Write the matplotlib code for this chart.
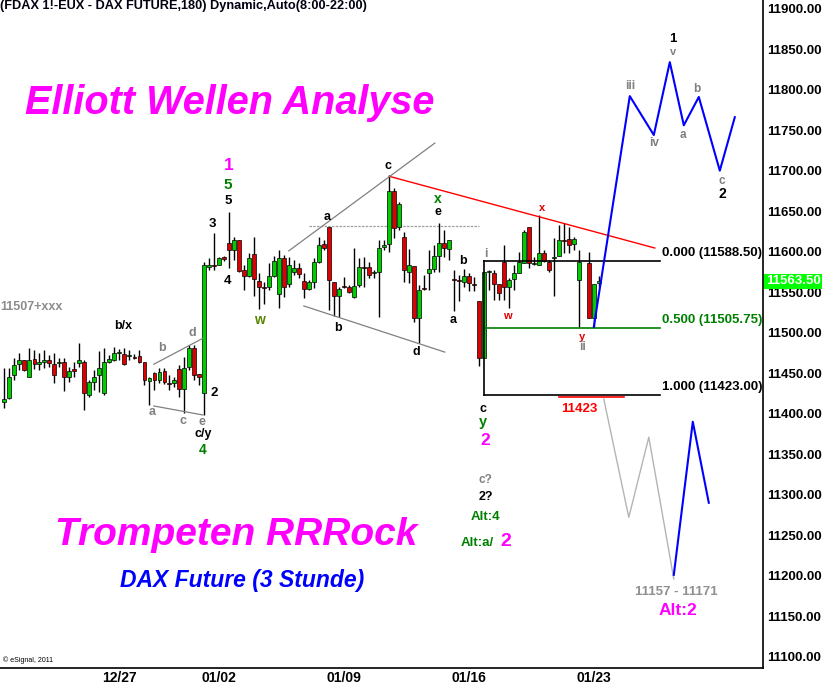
import matplotlib
matplotlib.use('Agg')
import matplotlib.pyplot as plt
import matplotlib.transforms as mtransforms
import numpy as np

plt.rcParams['font.family'] = ['Liberation Sans', 'DejaVu Sans']

# ---------------- data ----------------
bar_index = list(range(0, 116)) + [117, 118, 119]
opens = [11414, 11419, 11448, 11461, 11466, 11445, 11468, 11461, 11464, 11466,
         11461, 11463, 11464, 11445, 11455, 11463, 11464, 11423, 11439, 11448,
         11426, 11464, 11466, 11475, 11474, 11471, 11470, 11471, 11464, 11440,
         11450, 11442, 11453, 11438, 11438, 11455, 11431, 11458, 11481, 11449,
         11426, 11581, 11584, 11584, 11593, 11611, 11602, 11614, 11577, 11570,
         11597, 11564, 11556, 11556, 11570, 11548, 11592, 11560, 11575, 11580,
         11564, 11554, 11563, 11587, 11610, 11630, 11563, 11545, 11557, 11556,
         11544, 11559, 11581, 11581, 11574, 11575, 11606, 11609, 11675, 11631,
         11618, 11575, 11582, 11518, 11555, 11574, 11579, 11595, 11611, 11603,
         11566, 11565, 11563, 11570, 11560, 11539, 11469, 11575, 11574, 11560,
         11587, 11556, 11566, 11574, 11586, 11630, 11585, 11584, 11598, 11587,
         11592, 11595, 11614, 11616, 11610, 11565, 11586, 11518, 11561]
highs = [11456, 11456, 11469, 11475, 11466, 11481, 11479, 11475, 11479, 11472,
         11475, 11469, 11469, 11458, 11464, 11487, 11466, 11442, 11454, 11477,
         11481, 11472, 11482, 11480, 11481, 11479, 11474, 11479, 11464, 11445,
         11451, 11456, 11456, 11448, 11445, 11460, 11470, 11485, 11485, 11449,
         11587, 11592, 11623, 11593, 11595, 11649, 11618, 11614, 11584, 11598,
         11618, 11574, 11563, 11586, 11595, 11602, 11596, 11593, 11590, 11586,
         11574, 11565, 11592, 11618, 11614, 11630, 11563, 11556, 11569, 11559,
         11605, 11592, 11593, 11587, 11577, 11614, 11614, 11695, 11679, 11661,
         11624, 11603, 11582, 11559, 11571, 11602, 11608, 11635, 11627, 11614,
         11577, 11571, 11579, 11574, 11569, 11539, 11575, 11577, 11577, 11560,
         11608, 11567, 11584, 11600, 11627, 11630, 11593, 11645, 11602, 11590,
         11617, 11633, 11635, 11630, 11618, 11602, 11600, 11560, 11570]
lows = [11407, 11418, 11442, 11454, 11453, 11445, 11455, 11454, 11456, 11458,
        11438, 11458, 11428, 11439, 11445, 11458, 11405, 11421, 11429, 11427,
        11423, 11463, 11465, 11466, 11460, 11466, 11468, 11463, 11435, 11411,
        11429, 11438, 11437, 11429, 11433, 11421, 11401, 11454, 11442, 11435,
        11398, 11577, 11577, 11584, 11588, 11580, 11590, 11575, 11553, 11569,
        11545, 11529, 11535, 11553, 11569, 11530, 11544, 11556, 11571, 11567,
        11543, 11553, 11555, 11586, 11602, 11528, 11521, 11519, 11555, 11549,
        11543, 11556, 11556, 11567, 11567, 11519, 11602, 11600, 11617, 11627,
        11563, 11561, 11513, 11487, 11553, 11553, 11575, 11575, 11593, 11590,
        11527, 11539, 11556, 11551, 11551, 11459, 11469, 11553, 11540, 11540,
        11540, 11530, 11553, 11574, 11586, 11580, 11584, 11584, 11587, 11575,
        11545, 11595, 11598, 11598, 11602, 11507, 11518, 11507, 11556]
closes = [11418, 11445, 11460, 11466, 11454, 11466, 11461, 11464, 11466, 11463,
          11448, 11464, 11445, 11453, 11453, 11466, 11426, 11439, 11445, 11456,
          11464, 11468, 11475, 11476, 11461, 11472, 11469, 11464, 11442, 11444,
          11442, 11451, 11439, 11437, 11441, 11431, 11456, 11481, 11448, 11445,
          11584, 11584, 11582, 11592, 11591, 11602, 11614, 11576, 11570, 11592,
          11566, 11556, 11555, 11570, 11588, 11592, 11556, 11584, 11580, 11572,
          11554, 11563, 11587, 11608, 11605, 11565, 11545, 11554, 11556, 11550,
          11558, 11581, 11580, 11571, 11575, 11605, 11608, 11675, 11629, 11659,
          11577, 11584, 11518, 11553, 11554, 11579, 11595, 11611, 11605, 11614,
          11565, 11564, 11570, 11561, 11559, 11469, 11575, 11576, 11560, 11549,
          11556, 11565, 11574, 11587, 11624, 11586, 11586, 11598, 11589, 11577,
          11593, 11614, 11613, 11608, 11616, 11587, 11518, 11560, 11563.5]

date_ticks = [23, 43, 68, 93, 118]
date_labels = ['12/27', '01/02', '01/09', '01/16', '01/23']
price_ticks = list(range(11100, 11901, 50))
last_price = 11563.5

# wave projections
main_x = [117.9, 125.1, 129.9, 133.1, 135.9, 138.9, 143.1, 146.1]
main_y = [11507, 11792, 11744, 11834, 11756, 11791, 11700, 11766]
alt_gray_x = [119.9, 124.9, 128.9, 133.9]
alt_gray_y = [11418, 11272, 11371, 11196]
alt_blue_x = [133.9, 137.7, 140.9]
alt_blue_y = [11201, 11390, 11290]

# fibonacci levels
fib_levels = [11588.50, 11505.75, 11423.00]
fib_ratios = ['0.000', '0.500', '1.000']

# trend lines (x0, y0, x1, y1)
red_trend = (77.0, 11693, 130.1, 11604.5)
tri1_upper = (29.9, 11461, 39.7, 11493)
tri1_lower = (29.9, 11409.5, 39.7, 11398.4)
tri2_upper = (56.9, 11601, 86.1, 11734)
tri2_lower = (59.9, 11533, 88.1, 11476)
gray_level = 11631.7

# ---------------- figure ----------------
W, H = 824, 689
fig = plt.figure(figsize=(W / 100, H / 100), dpi=100)
fig.patch.set_facecolor('white')
ax = fig.add_axes([0, 21 / H, 763 / W, 668 / H])
ax.set_xlim(-0.86, 151.74)
ax.set_ylim(11086, 11910.7)

for s in ['top', 'left']:
    ax.spines[s].set_visible(False)
ax.spines['right'].set_linewidth(1.2)
ax.spines['bottom'].set_linewidth(1.2)

ax.yaxis.tick_right()
ax.set_yticks(price_ticks)
ax.set_yticklabels(['%.2f' % p for p in price_ticks], fontsize=9.5, fontweight='bold')
ax.tick_params(axis='y', length=0, pad=3)
ax.set_xticks(date_ticks)
ax.set_xticklabels(date_labels, fontsize=10, fontweight='bold',
                   family=['Liberation Sans Narrow', 'Liberation Sans'])
ax.tick_params(axis='x', length=0, pad=2)

# candles
o = np.array(opens, float); c = np.array(closes, float)
hi = np.array(highs, float); lo = np.array(lows, float)
xs = np.array(bar_index, float)
ax.vlines(xs, lo, hi, color='black', lw=1, zorder=2)
up = c >= o
bottoms = np.minimum(o, c)
heights = np.maximum(np.abs(c - o), 1.2)
ax.bar(xs[up], heights[up], bottom=bottoms[up], width=0.72, color='#00cc00',
       edgecolor='black', linewidth=0.5, zorder=3)
ax.bar(xs[~up], heights[~up], bottom=bottoms[~up], width=0.72, color='#dd0000',
       edgecolor='black', linewidth=0.5, zorder=3)

# trend lines
def seg(t, **kw):
    ax.plot([t[0], t[2]], [t[1], t[3]], **kw)

seg(red_trend, color='#ff0000', lw=1, zorder=4)
for t in (tri1_upper, tri1_lower, tri2_upper, tri2_lower):
    seg(t, color='#808080', lw=0.9, zorder=4)
ax.plot([61, 95], [gray_level, gray_level], color='#a0a0a0', lw=0.9, ls=(0, (2, 1)), zorder=1)

# fib box
fx0, fx1 = 95.9, 131.1
ax.plot([fx0, fx1], [fib_levels[0]] * 2, color='black', lw=1.2, zorder=4)
ax.plot([fx0, fx1], [fib_levels[1]] * 2, color='#008000', lw=1.2, zorder=4)
ax.plot([fx0, fx1], [fib_levels[2]] * 2, color='black', lw=1.2, zorder=4)
ax.plot([fx0, fx0], [fib_levels[0], fib_levels[2]], color='black', lw=1.2, zorder=4)
ax.plot([110.9, 123.9], [11421, 11421], color='#ff0000', lw=1.2, zorder=4)
fib_colors = ['black', '#008000', 'black']
for lv, r, col in zip(fib_levels, fib_ratios, fib_colors):
    ax.text(131.5, lv + 9.5, '%s (%.2f)' % (r, lv), color=col, fontsize=9.5,
            fontweight='bold', ha='left', va='center', zorder=6)

# projections
ax.plot(alt_gray_x, alt_gray_y, color='#b4b4b4', lw=1.0, zorder=4)
ax.plot(alt_blue_x, alt_blue_y, color='#0000ff', lw=1.5, zorder=5)
ax.plot(main_x, main_y, color='#0000ff', lw=1.5, zorder=5)

# wave labels: text, x, y, color, size
GR = '#808080'; GN = '#008000'; MG = '#ff00ff'; RD = '#e00000'; BK = 'black'
labels = [
    ('b/x', 23.7, 11508, BK, 9), ('b', 31.5, 11481, GR, 9), ('d', 37.7, 11500, GR, 9),
    ('a', 29.5, 11402, GR, 9), ('c', 35.7, 11391, GR, 9), ('e', 39.5, 11390, GR, 9),
    ('c/y', 39.7, 11375, BK, 9), ('2', 41.9, 11425, BK, 9.5), ('4', 39.7, 11355, GN, 10),
    ('3', 41.7, 11634, BK, 9.5), ('4', 44.7, 11564, BK, 9.5), ('5', 44.7, 11663, BK, 9.5),
    ('5', 44.7, 11682, GN, 11), ('1', 44.9, 11706, MG, 12.5), ('w', 51.1, 11516, '#558800', 10),
    ('a', 64.5, 11643, BK, 9), ('b', 66.7, 11506, BK, 9), ('c', 76.7, 11706, BK, 9),
    ('d', 82.5, 11476, BK, 9), ('x', 86.7, 11665, GN, 10), ('e', 86.7, 11649, BK, 9),
    ('b', 91.7, 11588, BK, 9), ('a', 89.7, 11516, BK, 9), ('i', 96.3, 11597, GR, 8.5),
    ('w', 100.7, 11521, RD, 8), ('x', 107.5, 11654, RD, 8), ('y', 115.5, 11495, RD, 8),
    ('ii', 115.7, 11482, GR, 8.5), ('c', 95.7, 11406, BK, 9), ('y', 95.7, 11390, GN, 10.5),
    ('2', 96.1, 11367, MG, 12.5), ('c?', 96.3, 11318, GR, 8.5), ('2?', 96.3, 11297, BK, 9),
    ('Alt:4', 96.3, 11272, GN, 9.5), ('Alt:a/', 94.5, 11240, GN, 9.5), ('2', 100.3, 11242, MG, 14),
    ('11423', 115.1, 11406, '#ff0000', 9.5),
    ('1', 133.7, 11863, BK, 9.5), ('v', 133.7, 11846, GR, 8), ('iii', 125.1, 11804, GR, 8.5),
    ('iv', 129.9, 11734, GR, 8.5), ('a', 135.7, 11744, GR, 8.5), ('b', 138.5, 11801, GR, 8.5),
    ('c', 143.5, 11687, GR, 8.5), ('2', 143.7, 11671, BK, 10),
    ('11157 - 11171', 134.5, 11180, '#909090', 9.5), ('Alt:2', 134.7, 11157, MG, 12.5),
]
for t, x, y, col, fs in labels:
    ax.text(x, y, t, color=col, fontsize=fs, fontweight='bold', ha='center',
            va='center', zorder=7)

ax.text(-0.86, 11532, '11507+xxx', color='#8c8c8c', fontsize=9, fontweight='bold',
        ha='left', va='center', zorder=7)

# last price tag
trans = mtransforms.blended_transform_factory(ax.transAxes, ax.transData)
ax.text(1.004, last_price, '%.2f' % last_price, transform=trans, color='white',
        fontsize=9.5, fontweight='bold', ha='left', va='center', zorder=10, clip_on=False,
        bbox=dict(boxstyle='square,pad=0.12', facecolor='#00ff00', edgecolor='none'))

# headline / titles
fig.text(0, 1 - 6 / H, '(FDAX 1!-EUX - DAX FUTURE,180) Dynamic,Auto(8:00-22:00)',
         fontsize=9.2, fontweight='bold', ha='left', va='center', color='#000010')
fig.text(230 / W, 1 - 103 / H, 'Elliott Wellen Analyse', fontsize=28.5, fontweight='bold',
         style='italic', color='#ff00ff', ha='center', va='center')
fig.text(236 / W, 1 - 535 / H, 'Trompeten RRRock', fontsize=28, fontweight='bold',
         style='italic', color='#ff00ff', ha='center', va='center')
fig.text(242 / W, 1 - 580 / H, 'DAX Future (3 Stunde)', fontsize=16.5, fontweight='bold',
         style='italic', color='#0000ff', ha='center', va='center')
fig.text(3 / W, 1 - 660 / H, '© eSignal, 2011', fontsize=5, ha='left', va='center')

fig.savefig('out.png', dpi=100)
